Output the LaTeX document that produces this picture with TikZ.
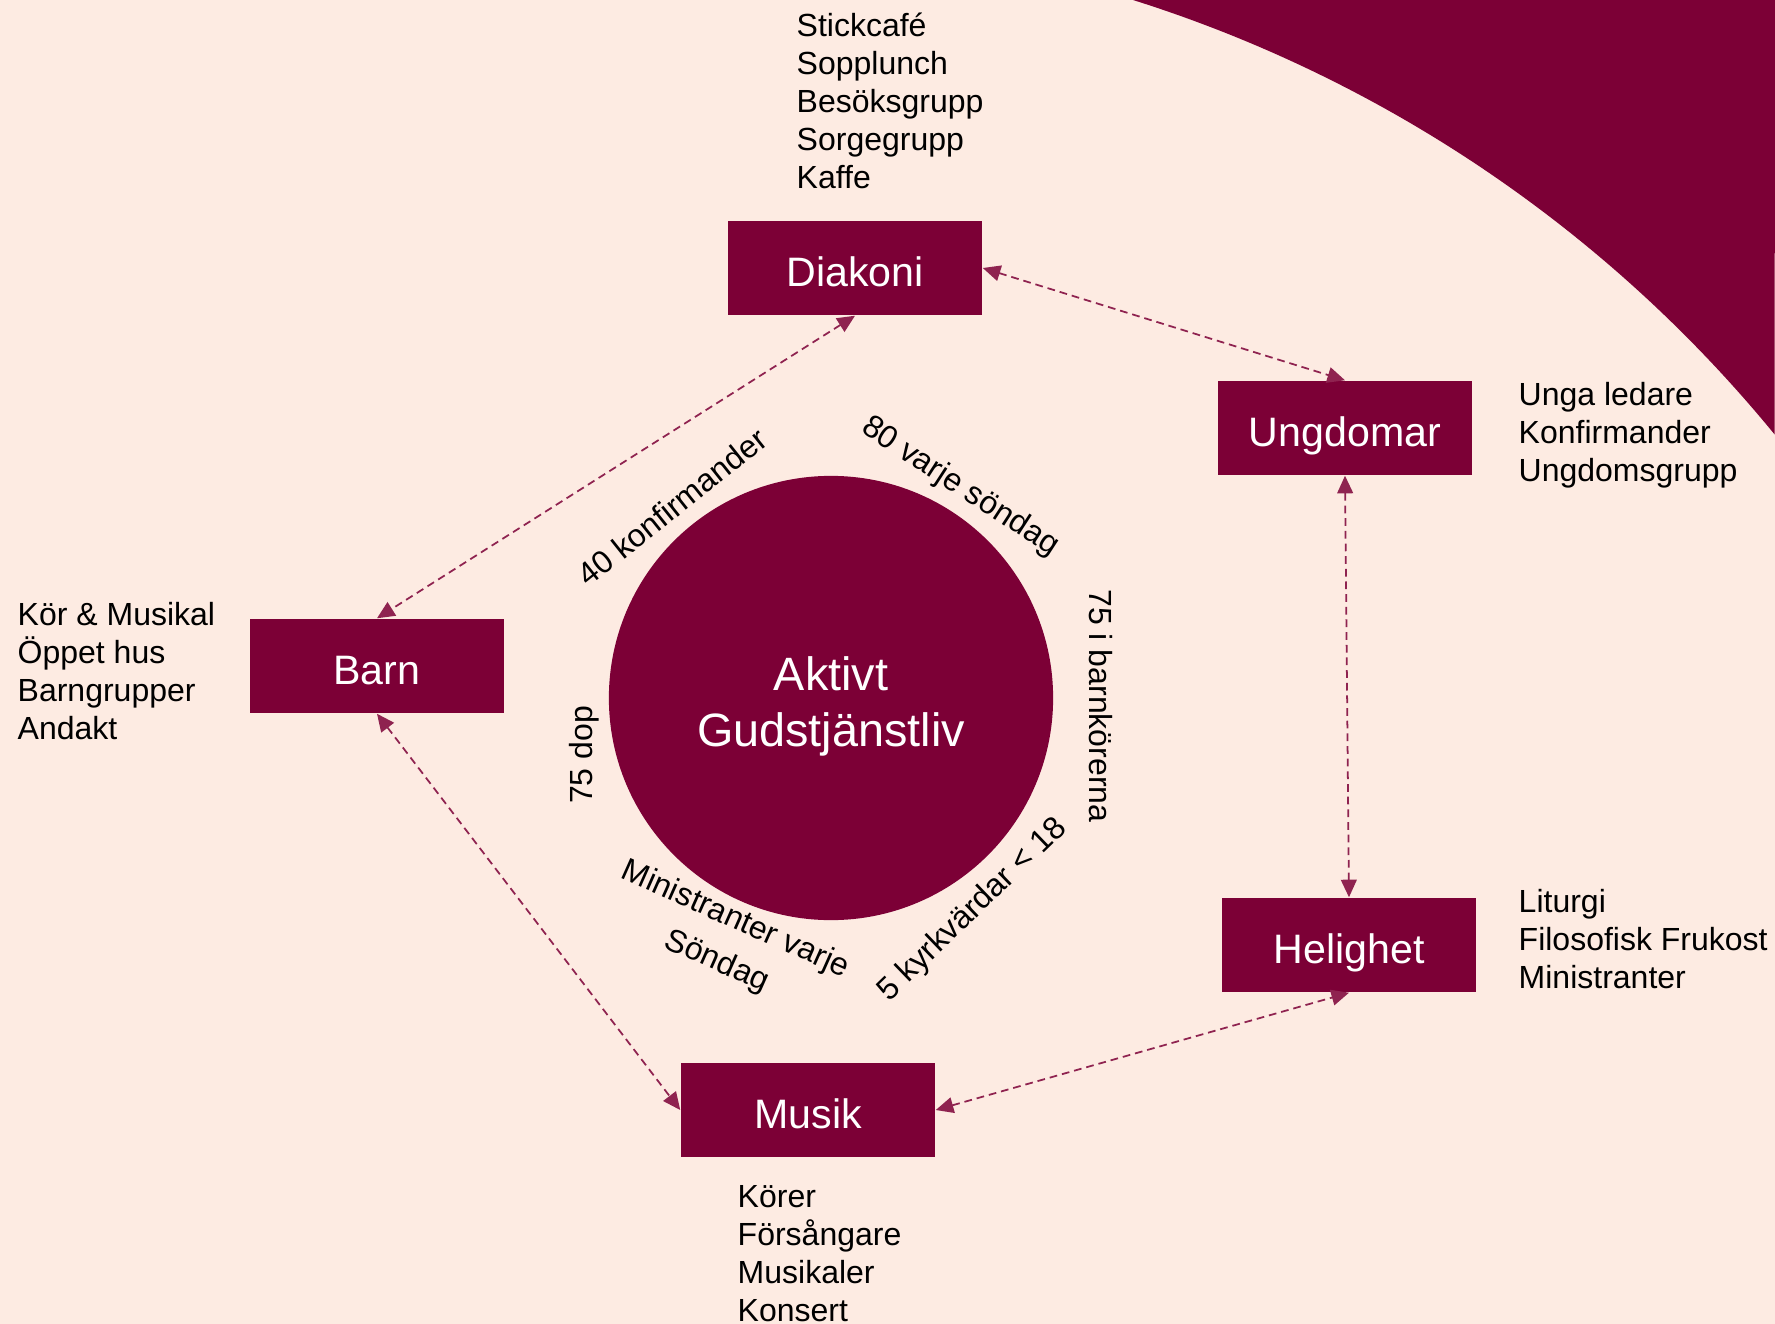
\documentclass[tikz,border=0pt]{standalone}
\usepackage{fontspec}
\setmainfont{Liberation Sans}
\usetikzlibrary{arrows.meta}
\definecolor{bgpeach}{RGB}{253,235,226}
\definecolor{maroon}{RGB}{124,0,54}
\begin{document}
\begin{tikzpicture}[x=0.01cm,y=-0.01cm,
  box/.style={fill=maroon, text=white, minimum width=2.54cm, minimum height=0.94cm, inner sep=0pt, text height=10.6pt, text depth=0pt, font=\fontsize{11.7}{14}\selectfont},
  note/.style={anchor=west, align=left, inner sep=0pt, font=\fontsize{9.1}{10.8}\selectfont},
  ring/.style={inner sep=0pt, font=\fontsize{9.1}{10.8}\selectfont},
  link/.style={draw=maroon!85!bgpeach, line width=0.5pt, dash pattern=on 2.2pt off 1.4pt, {Triangle[length=5pt,width=4.5pt]}-{Triangle[length=5pt,width=4.5pt]}}
]
\fill[bgpeach] (0,0) rectangle (1775,1324);
\useasboundingbox (0,0) rectangle (1775,1324);
\fill[maroon] (1133,0) arc[start angle=-72.5, end angle=-39.3, radius=1356] -- (1775,0) -- cycle;

\node[box] (diak) at (855,268) {Diakoni};
\node[box] (ung) at (1345,428) {Ungdomar};
\node[box] (barn) at (377,666) {Barn};
\node[box] (hel) at (1349,945) {Helighet};
\node[box] (mus) at (808,1110) {Musik};
\node[circle, fill=maroon, minimum size=4.44cm, inner sep=0pt, text=white, align=center, font=\fontsize{13.3}{16}\selectfont] (core) at (831,698) {};
\node[text=white, align=center, inner sep=0pt, yshift=-2.3pt, font=\fontsize{13.3}{16}\selectfont] (coretext) at (core.center) {Aktivt\\Gudstjänstliv};

\node[note] (ndiak) at (796,101) {Stickcafé\\Sopplunch\\Besöksgrupp\\Sorgegrupp\\Kaffe};
\node[note] (nung) at (1518,435) {Unga ledare\\Konfirmander\\Ungdomsgrupp};
\node[note] (nbarn) at (17,671) {Kör \& Musikal\\Öppet hus\\Barngrupper\\Andakt};
\node[note] (nhel) at (1518,939) {Liturgi\\Filosofisk Frukost\\Ministranter};
\node[note] (nmus) at (737,1254) {Körer\\Försångare\\Musikaler\\Konsert};

\node[ring, rotate=38.5] (l40) at (672,507) {40 konfirmander};
\node[ring, rotate=-33] (l80) at (960,487) {80 varje söndag};
\node[ring, rotate=-90] (l75b) at (1101,706) {75 i barnkörerna};
\node[ring, rotate=44] (l5) at (973,910) {5 kyrkvärdar < 18};
\node[ring, rotate=-24, align=center, font=\fontsize{9.1}{13}\selectfont] (lmin) at (726,941) {Ministranter varje\\Söndag};
\node[ring, rotate=90] (l75d) at (584,755) {75 dop};

\draw[link] (diak.east) -- (ung.north);
\draw[link] (diak.south) -- (barn.north);
\draw[link] (barn.south) -- (mus.west);
\draw[link] (mus.east) -- (hel.south);
\draw[link] (ung.south) -- (hel.north);
\end{tikzpicture}
\end{document}
